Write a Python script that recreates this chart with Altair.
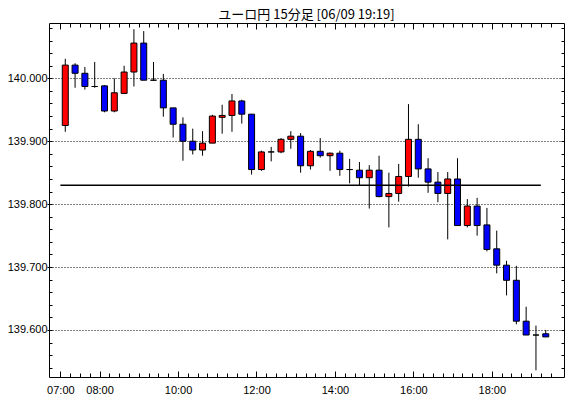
import altair as alt
import pandas as pd

# ---- data ----
times = ["07:00", "07:15", "07:30", "07:45", "08:00", "08:15", "08:30", "08:45",
         "09:00", "09:15", "09:30", "09:45", "10:00", "10:15", "10:30", "10:45",
         "11:00", "11:15", "11:30", "11:45", "12:00", "12:15", "12:30", "12:45",
         "13:00", "13:15", "13:30", "13:45", "14:00", "14:15", "14:30", "14:45",
         "15:00", "15:15", "15:30", "15:45", "16:00", "16:15", "16:30", "16:45",
         "17:00", "17:15", "17:30", "17:45", "18:00", "18:15", "18:30", "18:45",
         "19:00", "19:15"]
opens = [139.925, 140.021, 140.008, 139.987, 139.988, 139.948, 139.976, 140.010,
         140.056, 139.997, 139.997, 139.953, 139.927, 139.900, 139.886, 139.897,
         139.938, 139.941, 139.964, 139.943, 139.855, 139.883, 139.883, 139.903,
         139.908, 139.861, 139.884, 139.877, 139.881, 139.855, 139.854, 139.842,
         139.854, 139.812, 139.817, 139.844, 139.903, 139.856, 139.835, 139.817,
         139.840, 139.766, 139.797, 139.767, 139.729, 139.703, 139.679, 139.614,
         139.592, 139.594]
highs = [140.031, 140.024, 140.018, 140.026, 139.989, 140.000, 140.020, 140.078,
         140.075, 140.026, 140.007, 139.953, 139.938, 139.920, 139.916, 139.942,
         139.958, 139.975, 139.966, 139.943, 139.885, 139.891, 139.905, 139.916,
         139.913, 139.886, 139.905, 139.882, 139.885, 139.872, 139.867, 139.862,
         139.877, 139.850, 139.864, 139.959, 139.927, 139.873, 139.851, 139.851,
         139.873, 139.808, 139.810, 139.794, 139.758, 139.710, 139.702, 139.637,
         139.607, 139.600]
lows = [139.915, 139.985, 139.982, 139.985, 139.946, 139.946, 139.975, 139.987,
        139.997, 139.996, 139.939, 139.906, 139.869, 139.879, 139.877, 139.897,
        139.912, 139.915, 139.928, 139.847, 139.853, 139.868, 139.881, 139.888,
        139.850, 139.855, 139.874, 139.853, 139.845, 139.833, 139.830, 139.793,
        139.811, 139.763, 139.804, 139.828, 139.842, 139.818, 139.803, 139.744,
        139.766, 139.763, 139.750, 139.725, 139.690, 139.655, 139.609, 139.592,
        139.536, 139.589]
closes = [140.021, 140.008, 139.987, 139.987, 139.948, 139.977, 140.010, 140.056,
          139.997, 139.997, 139.953, 139.927, 139.900, 139.886, 139.897, 139.940,
          139.941, 139.964, 139.943, 139.855, 139.883, 139.883, 139.903, 139.908,
          139.861, 139.884, 139.877, 139.881, 139.855, 139.855, 139.842, 139.854,
          139.812, 139.817, 139.844, 139.903, 139.856, 139.835, 139.817, 139.840,
          139.766, 139.797, 139.766, 139.728, 139.703, 139.679, 139.614, 139.592,
          139.592, 139.589]

line_value = 139.830
line_from, line_to = "07:00", "19:15"

x_label_times = ["07:00", "08:00", "10:00", "12:00", "14:00", "16:00", "18:00"]
x_tick_times = times + ["19:30"]
y_label_values = [139.6, 139.7, 139.8, 139.9, 140.0]
y_minor_values = [139.54, 139.56, 139.58, 139.60, 139.62, 139.64, 139.66, 139.68,
                  139.70, 139.72, 139.74, 139.76, 139.78, 139.80, 139.82, 139.84,
                  139.86, 139.88, 139.90, 139.92, 139.94, 139.96, 139.98, 140.00,
                  140.02, 140.04, 140.06, 140.08]

title_text = "ユーロ円 15分足 [06/09 19:19]"


def minutes(t):
    h, m = t.split(":")
    return int(h) * 60 + int(m) - 7 * 60


df = pd.DataFrame({
    "time": times,
    "open": opens, "high": highs, "low": lows, "close": closes,
})
df["xm"] = [minutes(t) + 7.5 for t in times]
df["dir"] = ["up" if c > o else ("down" if c < o else "flat") for o, c in zip(opens, closes)]

line_df = pd.DataFrame({"x1": [minutes(line_from)], "x2": [minutes(line_to)], "v": [line_value]})

x_label_vals = [minutes(t) for t in x_label_times]
x_tick_vals = [minutes(t) for t in x_tick_times]

xscale = alt.Scale(domain=[-9.75, 762.75], nice=False, zero=False)
yscale = alt.Scale(domain=[139.5253, 140.0879], nice=False, zero=False)

FONT = "Liberation Sans"


def inner_axis(orient, values, size, offset):
    return alt.Axis(orient=orient, values=values, labels=False, tickSize=size,
                    offset=-offset, domain=False, grid=False, title=None,
                    tickColor="black", tickWidth=1)


wicks = alt.Chart(df).mark_rule(color="black", strokeWidth=1).encode(
    x=alt.X("xm:Q", scale=xscale,
            axis=alt.Axis(orient="bottom", values=x_label_vals, ticks=False, domain=False,
                          labelPadding=7, labelFont=FONT, labelFontSize=11, labelColor="black",
                          labelFlush=False, labelOverlap=False, grid=False, title=None,
                          labelExpr="slice('0' + (floor(datum.value / 60) + 7), -2) + ':00'")),
    y=alt.Y("low:Q", scale=yscale,
            axis=alt.Axis(orient="left", values=y_label_values, format=".3f", tickSize=2,
                          tickColor="black", domain=False, labelPadding=0, labelFont=FONT,
                          labelFontSize=11, labelColor="black", labelOverlap=False,
                          labelFlush=False, grid=True, gridDash=[1, 2], gridColor="black",
                          gridWidth=1, gridOpacity=1, title=None)),
    y2="high:Q",
)

bodies = alt.Chart(df).mark_bar(size=6, stroke="black", strokeWidth=1).encode(
    x=alt.X("xm:Q", scale=xscale, axis=inner_axis("top", x_tick_vals, 4, 4)),
    y=alt.Y("open:Q", scale=yscale, axis=inner_axis("right", y_minor_values, 3, 3)),
    y2="close:Q",
    color=alt.Color("dir:N", legend=None,
                    scale=alt.Scale(domain=["up", "down", "flat"],
                                    range=["#ff0000", "#0000ff", "#000000"])),
)

hline = alt.Chart(line_df).mark_rule(color="black", strokeWidth=1.5).encode(
    x=alt.X("x1:Q", scale=xscale, axis=inner_axis("bottom", x_tick_vals, 4, 4)),
    x2="x2:Q",
    y=alt.Y("v:Q", scale=yscale, axis=inner_axis("left", y_minor_values, 3, 3)),
)

major_bottom = alt.Chart(line_df).mark_rule(opacity=0).encode(
    x=alt.X("x1:Q", scale=xscale, axis=inner_axis("bottom", x_label_vals, 6, 6)),
    y=alt.Y("v:Q", scale=yscale, axis=None),
)

major_top = alt.Chart(line_df).mark_rule(opacity=0).encode(
    x=alt.X("x1:Q", scale=xscale, axis=inner_axis("top", x_label_vals, 6, 6)),
    y=alt.Y("v:Q", scale=yscale, axis=None),
)

chart = alt.layer(wicks, bodies, hline, major_bottom, major_top).resolve_axis(
    x="independent", y="independent"
).properties(
    width=515,
    height=354,
    autosize=alt.AutoSizeParams(type="none"),
    padding={"left": 49, "top": 23, "right": 6, "bottom": 21},
    background="white",
    view=alt.ViewBackground(stroke="black", strokeWidth=1),
    title=alt.TitleParams(title_text, font="Noto Sans CJK JP", fontSize=13,
                          fontWeight="normal", color="black", anchor="middle",
                          baseline="alphabetic", offset=5, dy=14),
).configure_view(stroke="black", strokeWidth=1)

chart.save("out.html", embed_options={"renderer": "svg", "actions": False})
